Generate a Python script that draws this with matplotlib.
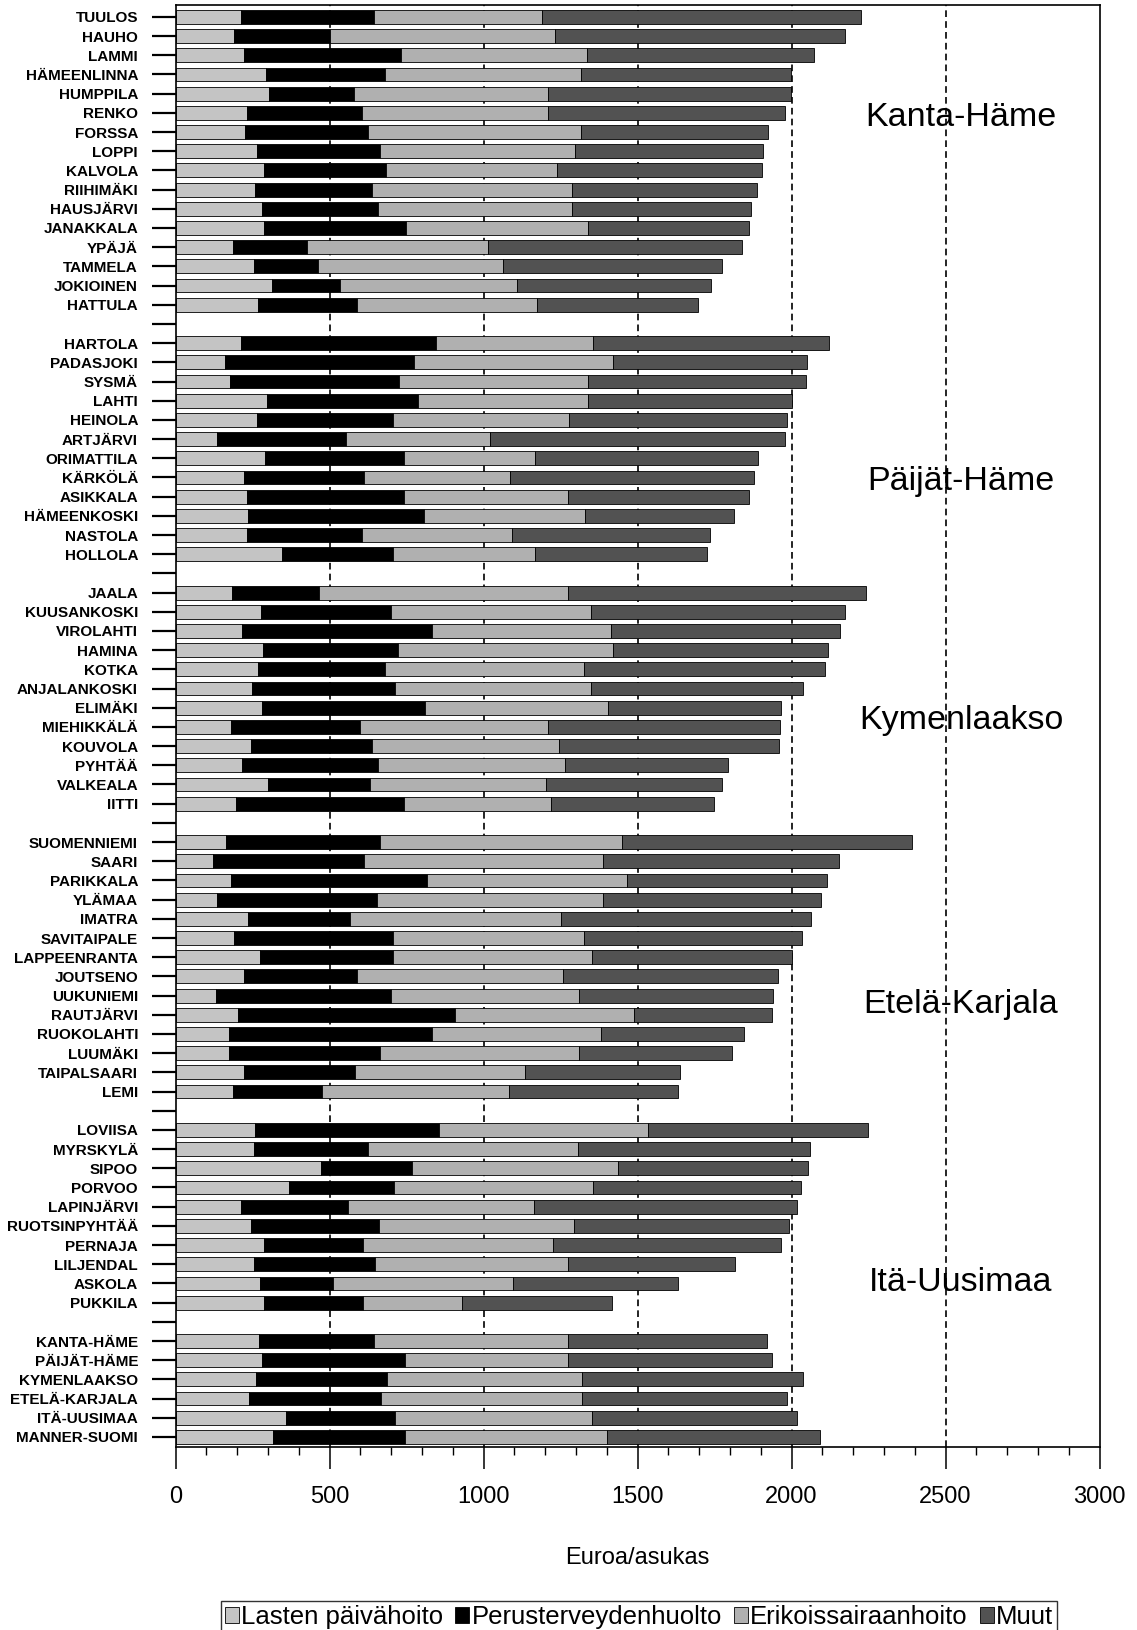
import numpy as np
import matplotlib
matplotlib.use('Agg')
import matplotlib.pyplot as plt
from matplotlib.ticker import MultipleLocator

plt.rcParams['font.family'] = ['Liberation Sans', 'DejaVu Sans']

# regions (block order top -> bottom), last block = region totals
regions = ['Kanta-Häme', 'Päijät-Häme', 'Kymenlaakso', 'Etelä-Karjala', 'Itä-Uusimaa', '']
group_sizes = [16, 12, 12, 14, 10, 6]

names = ['TUULOS', 'HAUHO', 'LAMMI', 'HÄMEENLINNA', 'HUMPPILA', 'RENKO', 'FORSSA', 'LOPPI',
         'KALVOLA', 'RIIHIMÄKI', 'HAUSJÄRVI', 'JANAKKALA', 'YPÄJÄ', 'TAMMELA', 'JOKIOINEN', 'HATTULA',
         'HARTOLA', 'PADASJOKI', 'SYSMÄ', 'LAHTI', 'HEINOLA', 'ARTJÄRVI', 'ORIMATTILA', 'KÄRKÖLÄ',
         'ASIKKALA', 'HÄMEENKOSKI', 'NASTOLA', 'HOLLOLA',
         'JAALA', 'KUUSANKOSKI', 'VIROLAHTI', 'HAMINA', 'KOTKA', 'ANJALANKOSKI', 'ELIMÄKI',
         'MIEHIKKÄLÄ', 'KOUVOLA', 'PYHTÄÄ', 'VALKEALA', 'IITTI',
         'SUOMENNIEMI', 'SAARI', 'PARIKKALA', 'YLÄMAA', 'IMATRA', 'SAVITAIPALE', 'LAPPEENRANTA',
         'JOUTSENO', 'UUKUNIEMI', 'RAUTJÄRVI', 'RUOKOLAHTI', 'LUUMÄKI', 'TAIPALSAARI', 'LEMI',
         'LOVIISA', 'MYRSKYLÄ', 'SIPOO', 'PORVOO', 'LAPINJÄRVI', 'RUOTSINPYHTÄÄ', 'PERNAJA',
         'LILJENDAL', 'ASKOLA', 'PUKKILA',
         'KANTA-HÄME', 'PÄIJÄT-HÄME', 'KYMENLAAKSO', 'ETELÄ-KARJALA', 'ITÄ-UUSIMAA', 'MANNER-SUOMI']

lasten = [211, 190, 221, 294, 305, 233, 226, 263, 287, 259, 282, 287, 188, 254, 313, 268,
          211, 162, 176, 296, 266, 136, 289, 223, 233, 235, 233, 345,
          183, 277, 216, 284, 268, 249, 282, 181, 244, 216, 301, 197,
          165, 120, 179, 136, 235, 190, 275, 223, 132, 204, 172, 172, 223, 186,
          259, 254, 473, 367, 212, 245, 287, 254, 275, 287,
          271, 280, 261, 238, 358, 315]
perus = [433, 310, 512, 387, 275, 373, 399, 400, 395, 378, 374, 460, 240, 207, 220, 322,
         635, 611, 550, 491, 439, 416, 454, 390, 510, 571, 371, 362,
         282, 423, 616, 437, 413, 463, 529, 418, 395, 440, 331, 546,
         500, 493, 636, 517, 331, 517, 430, 367, 568, 703, 660, 491, 360, 291,
         597, 370, 296, 341, 348, 414, 320, 395, 236, 320,
         374, 464, 424, 430, 353, 431]
erikois = [547, 731, 602, 635, 628, 602, 691, 634, 556, 651, 632, 593, 587, 601, 574, 585,
           510, 646, 614, 553, 573, 470, 425, 473, 531, 522, 489, 461,
           809, 649, 583, 698, 644, 637, 594, 611, 607, 608, 571, 477,
           783, 776, 651, 736, 684, 618, 646, 667, 609, 583, 550, 646, 550, 606,
           678, 682, 666, 647, 605, 633, 617, 626, 586, 322,
           630, 531, 635, 652, 642, 654]
muut = [1034, 943, 738, 682, 790, 771, 609, 611, 666, 601, 580, 521, 823, 712, 632, 522,
        766, 630, 707, 660, 708, 957, 724, 792, 587, 484, 641, 557,
        968, 825, 742, 698, 785, 688, 560, 752, 714, 531, 571, 528,
        942, 764, 649, 705, 813, 710, 651, 698, 630, 446, 465, 496, 505, 548,
        715, 755, 617, 676, 852, 701, 743, 542, 534, 488,
        645, 662, 718, 666, 664, 692]

series = ['Lasten päivähoito', 'Perusterveydenhuolto', 'Erikoissairaanhoito', 'Muut']
colors = ['#c4c4c4', '#000000', '#b0b0b0', '#525252']

# row positions with one empty row between blocks
pos = []
start = 0
for size in group_sizes:
    pos.extend(range(start, start + size))
    start += size + 1
last = pos[-1]
# where the region names sit (row within each block)
region_row = [5.25, 17 + 7.2, 30 + 6.65, 43 + 8.45, 58 + 7.95]

fig = plt.figure(figsize=(11.37, 16.30), dpi=100)
ax = fig.add_axes([0.1544, 0.1123, 0.8127, 0.8847])

for x in range(500, 3000, 500):
    ax.axvline(x, color='black', lw=1.2, ls=(0, (4, 2.5)), zorder=1)

left = np.zeros(len(pos))
for vals, lab, col in zip([lasten, perus, erikois, muut], series, colors):
    ax.barh(pos, vals, left=left, height=0.72, color=col, edgecolor='black',
            linewidth=0.6, label=lab, zorder=2)
    left += np.array(vals)

for reg, r in zip(regions, region_row):
    ax.text(2550, r, reg, fontsize=24.5, ha='center', va='center', zorder=3)

ax.set_xlim(0, 3000)
ax.set_ylim(last + 0.52, -0.625)
ax.xaxis.set_major_locator(MultipleLocator(500))
ax.xaxis.set_minor_locator(MultipleLocator(100))
ax.tick_params(axis='x', which='major', length=16, width=1.1, labelsize=17, pad=12)
ax.tick_params(axis='x', which='minor', length=6, width=1.0)

ylabels = [''] * (last + 1)
for p, n in zip(pos, names):
    ylabels[p] = n
ax.set_yticks(range(last + 1))
ax.set_yticklabels(ylabels, fontsize=11, fontweight='bold')
ax.tick_params(axis='y', length=17, width=1.6, pad=10)

for s in ax.spines.values():
    s.set_linewidth(1.2)

ax.set_xlabel('Euroa/asukas', fontsize=17, labelpad=28)

leg = fig.legend(loc='upper center', bbox_to_anchor=(0.562, 1 - 1601 / 1630), ncol=4,
                 fontsize=18.5, frameon=True, fancybox=False, edgecolor='black',
                 handlelength=0.55, handleheight=0.55, handletextpad=0.1,
                 columnspacing=0.45, borderpad=0.15, borderaxespad=0)
leg.get_frame().set_linewidth(1.0)

fig.savefig('out.png', dpi=100)
